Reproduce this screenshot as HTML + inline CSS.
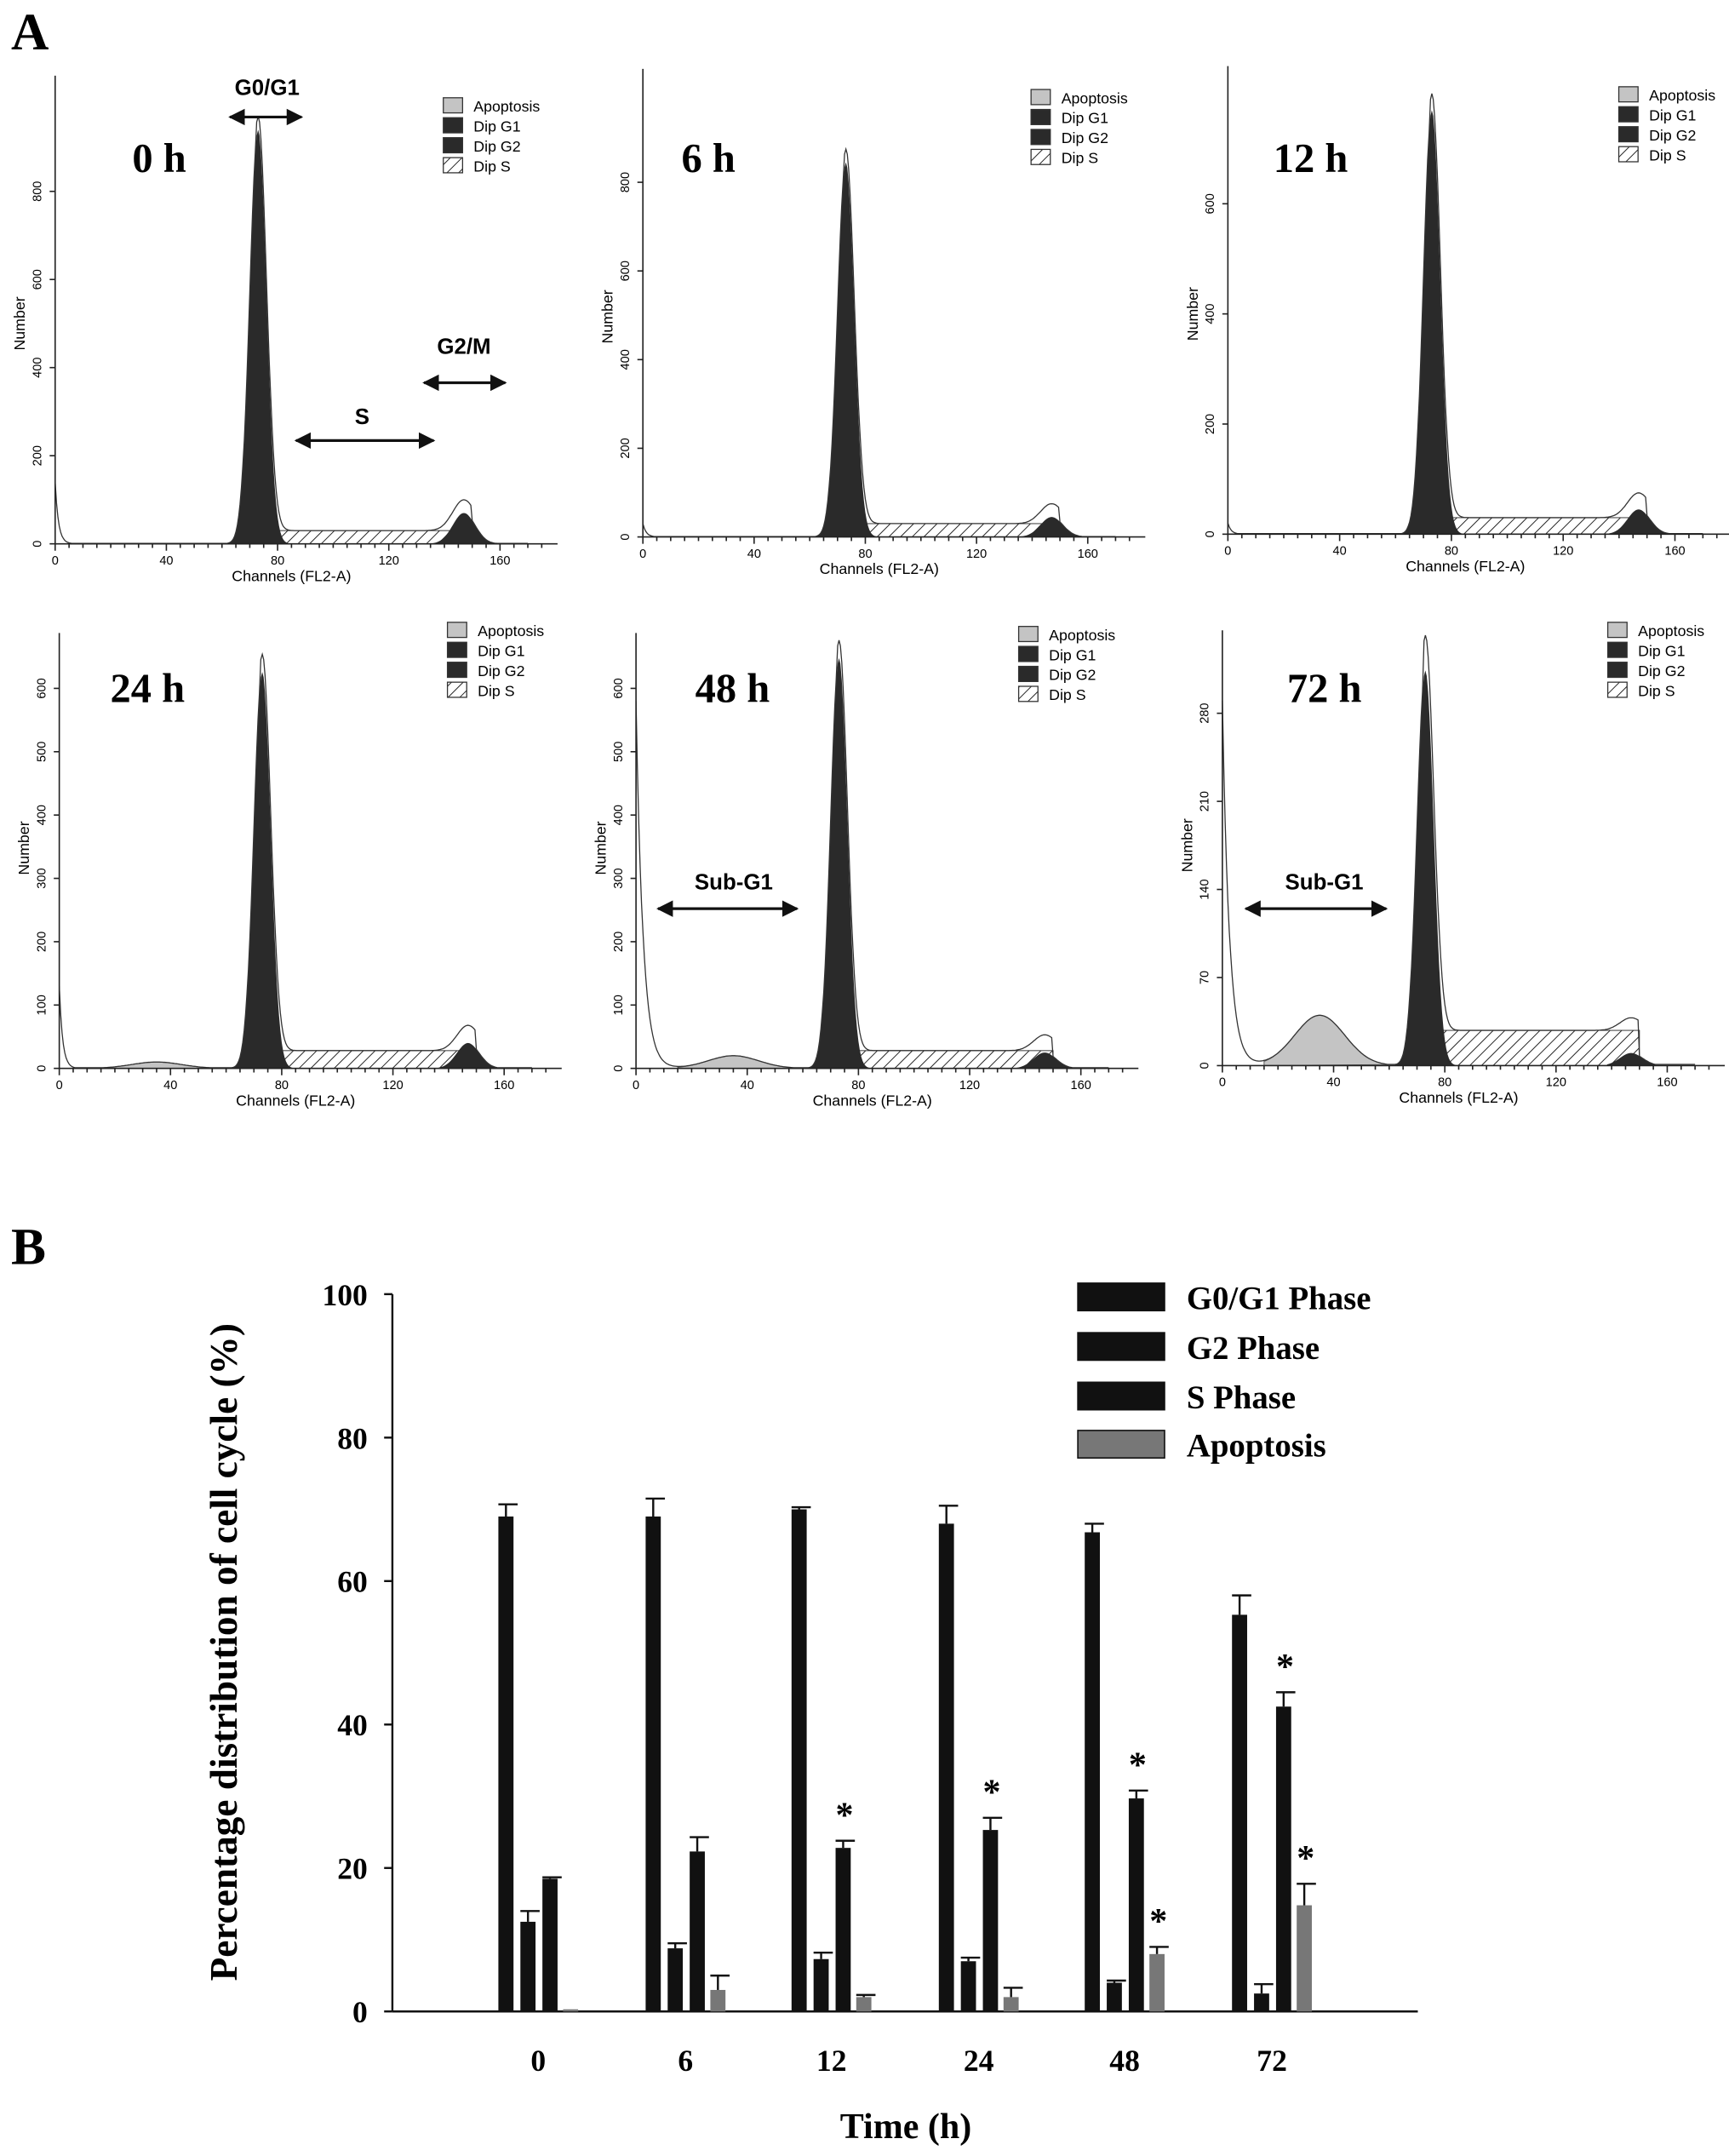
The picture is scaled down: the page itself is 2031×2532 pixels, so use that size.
<!DOCTYPE html>
<html><head><meta charset="utf-8">
<style>
html,body{margin:0;padding:0;background:#fff;}
svg{display:block;}
.ser{font-family:"Liberation Serif",serif;font-weight:bold;}
.sans{font-family:"Liberation Sans",sans-serif;}
</style></head>
<body>
<svg id="fig" width="2031" height="2532" viewBox="0 0 1256 1566" xmlns="http://www.w3.org/2000/svg">
<defs>
<pattern id="hatch" patternUnits="userSpaceOnUse" width="6" height="6" patternTransform="rotate(45)">
<rect width="6" height="6" fill="#fff"/><line x1="0" y1="0" x2="0" y2="6" stroke="#222" stroke-width="1.2"/>
</pattern>
<marker id="ah" viewBox="0 0 10 10" refX="9" refY="5" markerWidth="6" markerHeight="6" orient="auto-start-reverse"><path d="M0,0L10,5L0,10z" fill="#111"/></marker>
</defs>
<text class="ser" x="8" y="36" font-size="38">A</text>
<text class="ser" x="8" y="918" font-size="38">B</text>
<g id="hists"></g>
<g id="barchart"></g>
</svg>
<script>
// ===== Part B data =====
const categories = ['0','6','12','24','48','72'];
const g0g1 = [69, 69, 70, 68, 66.8, 55.3];
const g0g1Err = [1.7, 2.5, 0.3, 2.5, 1.2, 2.7];
const g2 = [12.5, 8.8, 7.3, 7, 4, 2.5];
const g2Err = [1.5, 0.7, 0.9, 0.5, 0.3, 1.3];
const sPhase = [18.5, 22.3, 22.8, 25.3, 29.7, 42.5];
const sErr = [0.2, 2, 1, 1.7, 1.1, 2];
const apoptosis = [0.3, 3, 2, 2, 8, 14.8];
const apoErr = [0, 2, 0.3, 1.3, 1, 3];
const sStar = [false, false, true, true, true, true];
const apoStar = [false, false, false, false, true, true];
const yTicks = [0, 20, 40, 60, 80, 100];
const seriesNames = ['G0/G1 Phase', 'G2 Phase', 'S Phase', 'Apoptosis'];

// ===== Part A histogram parameters =====
const panelLabels = ['0 h','6 h','12 h','24 h','48 h','72 h'];
const g1Peak = [940, 845, 770, 626, 648, 314];
const sLevel = [30, 30, 30, 28, 28, 28];
const g2Peak = [70, 45, 45, 40, 25, 10];
const apoPeak = [0, 0, 0, 10, 20, 40];
const subG1Start = [140, 30, 20, 130, 580, 290];
const histTicks = [[0,200,400,600,800],[0,200,400,600,800],[0,200,400,600],[0,100,200,300,400,500,600],[0,100,200,300,400,500,600],[0,70,140,210,280]];

const NS = 'http://www.w3.org/2000/svg';
function mk(tag, attrs, parent) {
  const e = document.createElementNS(NS, tag);
  for (const k in attrs) e.setAttribute(k, attrs[k]);
  parent.appendChild(e);
  return e;
}

const layout = [
  {x0:40, base:395, k:2.02, ppu:0.32, lx:322, ly:71, tx:96, ty:125},
  {x0:467, base:390, k:2.02, ppu:0.322, lx:749, ly:65, tx:495, ty:125},
  {x0:892, base:388, k:2.03, ppu:0.40, lx:1176, ly:63, tx:925, ty:125},
  {x0:43, base:776, k:2.02, ppu:0.46, lx:325, ly:452, tx:80, ty:510},
  {x0:462, base:776, k:2.02, ppu:0.46, lx:740, ly:455, tx:505, ty:510},
  {x0:888, base:774, k:2.02, ppu:0.914, lx:1168, ly:452, tx:935, ty:510}
];
const hg = document.getElementById('hists');
layout.forEach((L, i) => {
  const g = mk('g', {}, hg);
  
  
  const X = c => L.x0 + c * L.k;
  const Y = v => L.base - v * L.ppu;
  const gauss = (c, m, s, h) => h * Math.exp(-0.5 * ((c - m) / s) ** 2);
  let apo = 'M' + X(15) + ',' + Y(0), g1 = 'M' + X(62) + ',' + Y(0), g2p = 'M' + X(130) + ',' + Y(0), outline = '';
  for (let c = 0; c <= 170; c += 0.5) {
    const a = gauss(c, 35, 9, apoPeak[i]);
    const sub = subG1Start[i] * Math.exp(-c / (i >= 4 ? 2.5 : 1.2));
    const s = (c > 72 && c < 150) ? sLevel[i] : 0;
    const p1 = gauss(c, 73, 3.0, g1Peak[i]);
    const p2 = gauss(c, 147, 4, g2Peak[i]);
    const tot = Math.max(a + sub + s + p1 + p2, 1);
    outline += (c === 0 ? 'M' : 'L') + X(c).toFixed(1) + ',' + Y(tot).toFixed(1);
    if (c >= 15 && c <= 60) apo += 'L' + X(c) + ',' + Y(a);
    if (c >= 62 && c <= 84) g1 += 'L' + X(c) + ',' + Y(p1);
    if (c >= 130 && c <= 162) g2p += 'L' + X(c) + ',' + Y(p2 > 1 ? p2 : 0);
  }
  if (apoPeak[i] > 0) { const e = mk('path', {d: apo + 'Z', fill:'#c4c4c4', stroke:'#555', 'stroke-width':0.6}, g);   }
  const sh = mk('rect', {x:X(72), y:Y(sLevel[i]), width:X(150)-X(72), height:sLevel[i]*L.ppu, fill:'url(#hatch)', stroke:'#333', 'stroke-width':0.6}, g);
   
  const e1 = mk('path', {d: g1 + 'Z', fill:'#2a2a2a'}, g);
   
  const e2 = mk('path', {d: g2p + 'Z', fill:'#2a2a2a'}, g);
   
  mk('path', {d: outline, fill:'none', stroke:'#333', 'stroke-width':0.8}, g);
  const top = L.base - 340 * (i < 3 ? 1 : 0.93);
  mk('line', {x1:L.x0, y1:L.base, x2:L.x0 + 365, y2:L.base, stroke:'#222', 'stroke-width':1}, g);
  mk('line', {x1:L.x0, y1:L.base, x2:L.x0, y2:top, stroke:'#222', 'stroke-width':1}, g);
  for (let c = 0; c <= 175; c += 5) mk('line', {x1:X(c), y1:L.base, x2:X(c), y2:L.base + (c % 40 === 0 ? 5 : 3), stroke:'#222'}, g);
  [0,40,80,120,160].forEach(c => { const t = mk('text', {x:X(c), y:L.base + 15, 'font-size':9, 'text-anchor':'middle', class:'sans'}, g); t.textContent = c; });
  histTicks[i].forEach(v => {
    mk('line', {x1:L.x0 - 4, y1:Y(v), x2:L.x0, y2:Y(v), stroke:'#222'}, g);
    const t = mk('text', {x:L.x0 - 10, y:Y(v), 'font-size':9, 'text-anchor':'middle', class:'sans', transform:`rotate(-90 ${L.x0 - 10} ${Y(v)})`}, g); t.textContent = v;
  });
  const xl = mk('text', {x:X(85), y:L.base + 27, 'font-size':11, 'text-anchor':'middle', class:'sans'}, g); xl.textContent = 'Channels (FL2-A)';
  const yl = mk('text', {x:L.x0 - 22, y:L.base - 160, 'font-size':11, 'text-anchor':'middle', class:'sans', transform:`rotate(-90 ${L.x0 - 22} ${L.base - 160})`}, g); yl.textContent = 'Number';
  const tl = mk('text', {x:L.tx, y:L.ty, 'font-size':30, class:'ser'}, g); tl.textContent = panelLabels[i];
   
  const lg = mk('g', {}, g);
   
  const fills = ['#c4c4c4','#2a2a2a','#2a2a2a','url(#hatch)'];
  ['Apoptosis','Dip G1','Dip G2','Dip S'].forEach((n, j) => {
    mk('rect', {x:L.lx, y:L.ly + j * 14.5, width:14, height:11, fill:fills[j], stroke:'#333', 'stroke-width':0.8}, lg);
    const t = mk('text', {x:L.lx + 22, y:L.ly + j * 14.5 + 10, 'font-size':11, class:'sans'}, lg); t.textContent = n;
  });
});
function arrow(x1, x2, y, label, tx, ty) {
  const g = mk('g', {}, hg);
  
  
  mk('line', {x1:x1, y1:y, x2:x2, y2:y, stroke:'#111', 'stroke-width':2, 'marker-start':'url(#ah)', 'marker-end':'url(#ah)'}, g);
  const t = mk('text', {x:tx, y:ty, 'font-size':16, 'font-weight':'bold', 'text-anchor':'middle', class:'sans'}, g); t.textContent = label;
}
arrow(167, 219, 85, 'G0/G1', 194, 69);
arrow(215, 315, 320, 'S', 263, 308);
arrow(308, 367, 278, 'G2/M', 337, 257);
arrow(478, 579, 660, 'Sub-G1', 533, 646);
arrow(905, 1007, 660, 'Sub-G1', 962, 646);

const bc = document.getElementById('barchart');
const ax = {x0:285, x1:1030, y0:1461, y1:940};
const yS = v => ax.y0 - (v / 100) * (ax.y0 - ax.y1);
const centers = [391, 498, 604, 711, 817, 924];
const xS = i => centers[i];
mk('line', {x1:ax.x0, y1:ax.y0, x2:ax.x1, y2:ax.y0, stroke:'#111', 'stroke-width':1.5}, bc);
mk('line', {x1:ax.x0, y1:ax.y0, x2:ax.x0, y2:ax.y1, stroke:'#111', 'stroke-width':1.5}, bc);
yTicks.forEach(v => {
  mk('line', {x1:ax.x0 - 6, y1:yS(v), x2:ax.x0, y2:yS(v), stroke:'#111', 'stroke-width':1.5}, bc);
  const t = mk('text', {x:ax.x0 - 18, y:yS(v) + 8, 'font-size':22, 'text-anchor':'end', class:'ser'}, bc); t.textContent = v;
   
});
categories.forEach((c, i) => {
  const t = mk('text', {x:xS(i), y:1504, 'font-size':22, 'text-anchor':'middle', class:'ser'}, bc); t.textContent = c;
   
});
const yt = mk('text', {x:172, y:1200, 'font-size':28, 'text-anchor':'middle', class:'ser', transform:'rotate(-90 172 1200)'}, bc);
yt.textContent = 'Percentage distribution of cell cycle (%)';
 
const xt = mk('text', {x:658, y:1553, 'font-size':26, 'text-anchor':'middle', class:'ser'}, bc);
xt.textContent = 'Time (h)';
 
const series = [g0g1, g2, sPhase, apoptosis];
const errs = [g0g1Err, g2Err, sErr, apoErr];
const offs = [-29, -13, 3, 18];
const cols = ['#111', '#111', '#111', '#777'];
const bw = 11;
series.forEach((arr, s) => {
  arr.forEach((v, i) => {
    const x = xS(i) + offs[s];
    const r = mk('rect', {x:x, y:yS(v), width:bw, height:ax.y0 - yS(v), fill:cols[s]}, bc);
    
    
    const e = errs[s][i];
    if (e > 0) {
      const ye = yS(v + e);
      mk('line', {x1:x + bw / 2, y1:yS(v), x2:x + bw / 2, y2:ye, stroke:'#111', 'stroke-width':1.5}, bc);
      mk('line', {x1:x, y1:ye, x2:x + bw + 3, y2:ye, stroke:'#111', 'stroke-width':1.5}, bc);
    }
  });
});
function star(s, i) {
  const x = xS(i) + offs[s] + bw / 2;
  const t = mk('text', {x:x + 1, y:yS(series[s][i] + errs[s][i]) - 10, 'font-size':26, 'text-anchor':'middle', class:'ser'}, bc);
  t.textContent = '*';
  
  
}
sStar.forEach((b, i) => { if (b) star(2, i); });
apoStar.forEach((b, i) => { if (b) star(3, i); });
const legY = [932, 968, 1004, 1039];
seriesNames.forEach((n, j) => {
  const g = mk('g', {}, bc);
  
  
  mk('rect', {x:783, y:legY[j], width:63, height:20, fill:cols[j], stroke:'#111'}, g);
  const t = mk('text', {x:862, y:legY[j] + 19, 'font-size':24, class:'ser'}, g); t.textContent = n;
});
</script>
</body></html>
